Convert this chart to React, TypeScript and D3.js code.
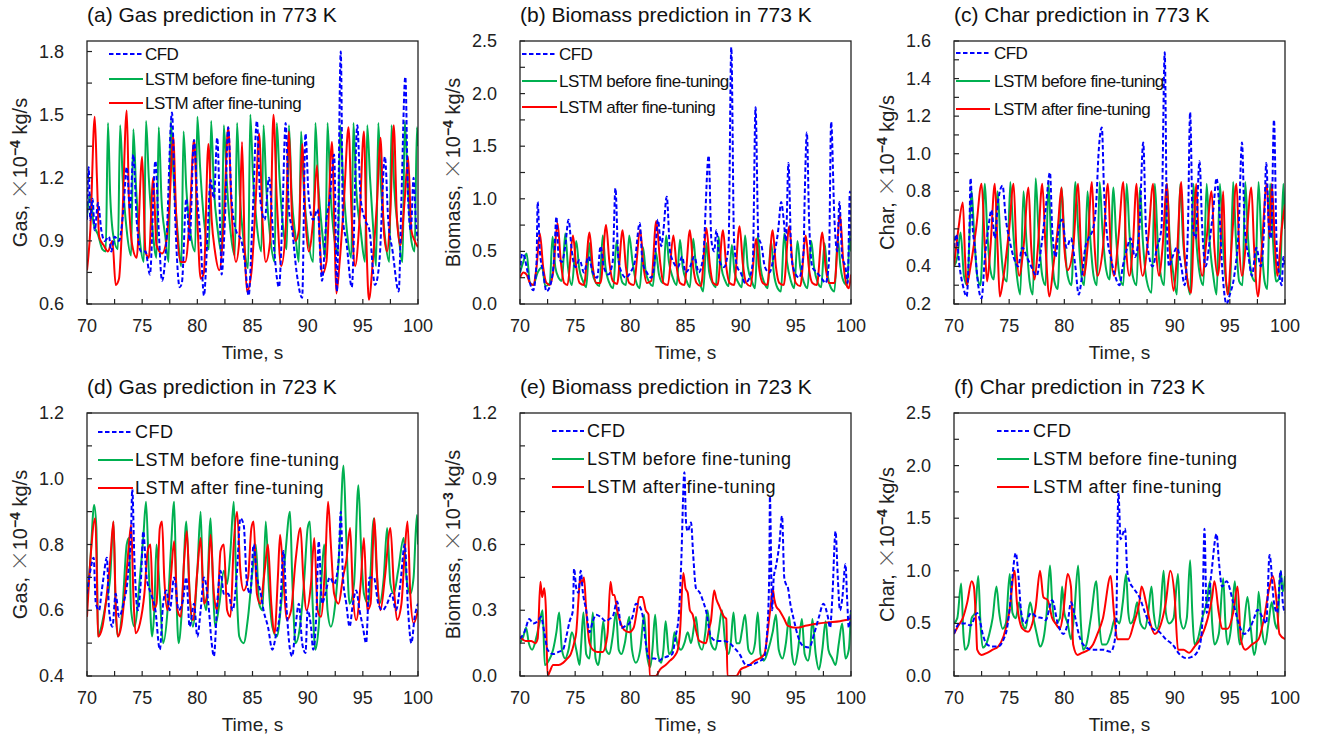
import React from 'react'
import * as d3 from 'd3'

type Pt = [number, number]

const timeTicks = [70, 75, 80, 85, 90, 95, 100]
const timeMinor = [72.5, 77.5, 82.5, 87.5, 92.5, 97.5]

// ---------- (a) Gas, 773 K ----------
const gasHotTicks = [0.6, 0.9, 1.2, 1.5, 1.8]
const gasHotCfd: Pt[] = [[70.0,1.0],[70.15,1.25],[70.3,1.0],[70.5,1.1],[70.7,0.95],[71.0,1.08],[71.3,0.95],[71.6,0.9],[72.0,0.92],[72.2,0.85],[72.5,0.92],[72.9,0.9],[73.3,1.05],[73.6,1.25],[73.9,1.05],[74.2,1.31],[74.5,1.0],[74.9,0.85],[75.3,0.85],[75.7,0.74],[76.2,1.28],[76.5,0.95],[76.8,0.71],[77.2,0.9],[77.7,1.51],[78.0,1.0],[78.4,0.68],[78.6,0.7],[79.0,1.1],[79.3,0.9],[79.7,1.38],[80.0,1.1],[80.3,0.9],[80.6,0.64],[80.9,0.9],[81.2,1.19],[81.5,1.1],[81.8,1.39],[82.1,0.9],[82.2,0.74],[82.5,1.0],[82.8,1.44],[83.1,1.1],[83.5,0.95],[84.0,0.9],[84.3,0.8],[84.65,0.64],[85.0,1.0],[85.4,1.47],[85.7,1.1],[86.1,1.0],[86.5,1.2],[86.9,0.9],[87.4,0.68],[87.7,1.0],[88.0,1.46],[88.3,1.05],[88.6,0.95],[89.0,0.75],[89.5,0.63],[89.8,1.41],[90.1,1.1],[90.5,1.0],[90.9,1.05],[91.3,0.71],[91.7,1.0],[92.0,1.1],[92.4,1.31],[92.65,0.66],[93.0,1.8],[93.2,1.0],[93.5,0.9],[94.0,0.68],[94.5,1.45],[94.8,1.1],[95.2,1.0],[95.6,0.95],[96.1,0.69],[96.5,0.8],[97.0,1.3],[97.3,1.0],[97.7,0.85],[98.25,0.66],[98.5,1.1],[98.85,1.68],[99.1,1.1],[99.35,0.95],[99.6,1.2],[99.8,1.0],[100,0.9]]
const gasHotBefore: Pt[] = [[70.0,1.02],[70.3,1.12],[70.6,0.98],[71.0,0.93],[71.4,0.86],[71.7,0.85],[71.9,1.46],[72.1,1.12],[72.4,0.92],[72.8,0.86],[73.0,1.45],[73.25,1.18],[73.6,0.95],[74.0,0.83],[74.2,1.43],[74.45,1.15],[74.8,0.9],[75.15,0.8],[75.35,1.47],[75.6,1.2],[75.95,0.95],[76.3,0.82],[76.5,1.44],[76.75,1.1],[77.1,0.92],[77.4,0.8],[77.6,1.47],[77.85,1.2],[78.2,0.95],[78.55,0.78],[78.75,1.42],[79.0,1.15],[79.4,0.93],[79.8,0.85],[80.0,1.49],[80.25,1.25],[80.6,1.0],[81.05,0.86],[81.25,1.47],[81.5,1.15],[81.85,0.95],[82.2,0.84],[82.4,1.45],[82.65,1.2],[83.0,0.95],[83.4,0.83],[83.6,1.46],[83.85,1.12],[84.2,0.9],[84.6,0.77],[84.8,1.5],[85.05,1.2],[85.4,0.97],[85.8,0.85],[86.0,1.45],[86.25,1.15],[86.6,0.92],[87.0,0.8],[87.2,1.46],[87.45,1.2],[87.8,0.95],[88.1,0.86],[88.3,1.45],[88.55,1.12],[88.9,0.92],[89.2,0.8],[89.4,1.42],[89.65,1.15],[90.0,0.93],[90.5,0.8],[90.7,1.46],[90.95,1.18],[91.3,0.95],[91.6,0.82],[91.8,1.46],[92.05,1.15],[92.4,0.92],[92.75,0.84],[92.95,1.45],[93.2,1.2],[93.55,0.95],[93.95,0.82],[94.15,1.46],[94.4,1.15],[94.8,0.95],[95.2,0.8],[95.4,1.45],[95.65,1.2],[95.95,0.95],[96.2,0.78],[96.4,1.46],[96.65,1.15],[97.0,0.92],[97.4,0.8],[97.6,1.45],[97.85,1.15],[98.2,0.95],[98.6,0.8],[98.8,1.47],[99.05,1.2],[99.4,0.9],[99.7,0.85],[99.9,1.44],[100,1.35]]
const gasHotAfter: Pt[] = [[70.0,0.76],[70.3,0.95],[70.7,1.49],[70.9,1.2],[71.1,0.92],[71.5,0.88],[71.9,0.85],[72.3,0.9],[72.6,0.69],[72.9,0.72],[73.2,1.0],[73.6,1.52],[73.8,1.1],[74.1,0.88],[74.5,0.82],[75.0,1.3],[75.3,0.85],[75.6,0.82],[76.0,1.2],[76.3,0.88],[76.8,0.84],[77.2,0.9],[77.5,1.1],[77.8,1.4],[78.1,1.0],[78.5,0.8],[78.9,0.8],[79.3,1.0],[79.7,1.38],[80.0,1.0],[80.3,0.72],[80.6,0.75],[81.0,1.36],[81.3,1.0],[81.6,0.85],[82.0,0.76],[82.4,1.0],[82.8,1.44],[83.1,1.05],[83.5,0.8],[83.8,0.9],[84.05,1.37],[84.3,0.85],[84.5,0.66],[84.9,0.75],[85.3,1.1],[85.6,1.41],[85.9,1.0],[86.2,0.8],[86.6,0.9],[86.9,1.5],[87.2,1.1],[87.6,0.78],[88.0,0.95],[88.3,1.42],[88.6,1.0],[88.9,0.9],[89.2,0.95],[89.5,1.36],[89.8,1.0],[90.1,0.85],[90.5,1.0],[90.85,1.26],[91.1,0.9],[91.3,0.74],[91.7,0.8],[92.2,1.37],[92.45,0.9],[92.6,0.65],[92.9,0.8],[93.3,1.1],[93.7,1.44],[94.0,1.0],[94.3,0.78],[94.7,1.0],[95.1,1.42],[95.35,0.85],[95.55,0.62],[95.9,0.8],[96.3,1.1],[96.6,1.39],[96.9,0.95],[97.2,0.85],[97.5,1.05],[97.8,1.45],[98.1,1.0],[98.4,0.88],[98.8,1.1],[99.1,1.3],[99.4,0.95],[99.7,0.9],[100,0.87]]

// ---------- (b) Biomass, 773 K ----------
const bioHotTicks = [0, 0.5, 1.0, 1.5, 2.0, 2.5]
const bioHotCfd: Pt[] = [[70.0,0.3],[70.2,0.48],[70.4,0.45],[70.6,0.35],[70.9,0.2],[71.2,0.13],[71.5,0.4],[71.6,0.97],[71.8,0.5],[72.1,0.3],[72.4,0.12],[72.8,0.2],[73.1,0.45],[73.3,0.83],[73.5,0.45],[73.8,0.4],[74.1,0.55],[74.4,0.8],[74.7,0.5],[75.0,0.35],[75.4,0.42],[75.8,0.3],[76.2,0.45],[76.6,0.3],[77.0,0.25],[77.3,0.55],[77.6,0.35],[78.0,0.28],[78.4,0.4],[78.65,1.1],[78.9,0.45],[79.2,0.3],[79.6,0.25],[80.0,0.3],[80.4,0.4],[80.85,0.77],[81.1,0.4],[81.5,0.3],[81.9,0.25],[82.2,0.4],[82.5,0.8],[82.8,0.55],[83.0,0.7],[83.3,1.02],[83.6,0.5],[83.9,0.4],[84.3,0.35],[84.7,0.45],[85.0,0.3],[85.4,0.35],[85.8,0.45],[86.2,0.3],[86.6,0.45],[87.1,1.41],[87.35,0.6],[87.6,0.5],[87.8,0.7],[88.1,0.4],[88.5,0.35],[88.9,0.55],[89.15,2.44],[89.4,0.6],[89.7,0.35],[90.0,0.3],[90.4,0.2],[90.8,0.25],[91.1,0.4],[91.35,1.87],[91.6,0.65],[91.9,0.55],[92.2,0.35],[92.6,0.3],[93.0,0.45],[93.4,0.7],[93.67,0.97],[93.9,0.8],[94.1,0.6],[94.33,1.34],[94.6,0.45],[94.9,0.3],[95.3,0.25],[95.7,0.5],[95.8,1.0],[96.0,1.63],[96.2,0.8],[96.5,0.35],[96.9,0.3],[97.3,0.25],[97.7,0.2],[98.0,0.4],[98.2,1.73],[98.5,0.8],[98.75,0.5],[98.95,0.97],[99.2,0.45],[99.5,0.35],[99.7,0.2],[99.9,1.07],[100,0.6]]
const bioHotBefore: Pt[] = [[70.0,0.3],[70.3,0.4],[70.6,0.48],[70.9,0.2],[71.2,0.18],[71.6,0.3],[72.0,0.35],[72.3,0.17],[72.7,0.2],[72.95,0.64],[73.2,0.35],[73.5,0.25],[73.8,0.22],[74.1,0.67],[74.35,0.35],[74.7,0.18],[75.1,0.6],[75.35,0.35],[75.7,0.22],[76.0,0.16],[76.3,0.58],[76.55,0.3],[76.9,0.2],[77.2,0.17],[77.5,0.65],[77.75,0.35],[78.1,0.2],[78.45,0.15],[78.75,0.6],[79.0,0.35],[79.3,0.2],[79.6,0.18],[79.9,0.65],[80.2,0.4],[80.5,0.22],[80.85,0.15],[81.15,0.54],[81.4,0.3],[81.75,0.2],[82.05,0.17],[82.3,0.5],[82.6,0.28],[82.95,0.2],[83.25,0.65],[83.5,0.4],[83.85,0.25],[84.2,0.18],[84.5,0.61],[84.75,0.35],[85.1,0.22],[85.4,0.16],[85.7,0.62],[85.95,0.35],[86.3,0.2],[86.6,0.12],[86.9,0.58],[87.15,0.3],[87.45,0.2],[87.75,0.16],[88.0,0.64],[88.25,0.35],[88.6,0.22],[88.9,0.17],[89.2,0.56],[89.45,0.3],[89.8,0.2],[90.1,0.16],[90.4,0.65],[90.65,0.35],[91.0,0.22],[91.3,0.15],[91.55,0.65],[91.8,0.35],[92.15,0.2],[92.45,0.15],[92.75,0.6],[93.0,0.3],[93.35,0.15],[93.65,0.12],[93.95,0.67],[94.2,0.4],[94.55,0.22],[94.85,0.15],[95.15,0.6],[95.4,0.35],[95.75,0.2],[96.05,0.15],[96.4,0.6],[96.65,0.35],[97.0,0.2],[97.3,0.16],[97.6,0.58],[97.85,0.3],[98.2,0.15],[98.5,0.12],[98.8,0.62],[99.05,0.35],[99.4,0.2],[99.65,0.18],[99.9,0.65],[100,0.5]]
const bioHotAfter: Pt[] = [[70.0,0.25],[70.3,0.3],[70.6,0.28],[70.9,0.2],[71.2,0.18],[71.5,0.35],[71.8,0.67],[72.1,0.35],[72.4,0.2],[72.7,0.18],[73.0,0.3],[73.4,0.77],[73.7,0.4],[74.0,0.2],[74.3,0.18],[74.8,0.65],[75.1,0.35],[75.4,0.2],[75.8,0.18],[76.3,0.68],[76.6,0.35],[76.9,0.2],[77.3,0.2],[77.8,0.75],[78.1,0.4],[78.4,0.22],[78.8,0.19],[79.3,0.7],[79.6,0.35],[79.9,0.2],[80.3,0.18],[80.9,0.7],[81.2,0.35],[81.5,0.2],[81.9,0.22],[82.35,0.79],[82.7,0.4],[83.0,0.2],[83.4,0.18],[83.9,0.65],[84.2,0.35],[84.5,0.2],[84.9,0.18],[85.4,0.7],[85.7,0.35],[86.0,0.2],[86.4,0.17],[86.9,0.72],[87.2,0.38],[87.5,0.2],[87.9,0.18],[88.4,0.7],[88.7,0.35],[89.0,0.2],[89.4,0.18],[89.9,0.74],[90.2,0.38],[90.5,0.2],[90.9,0.17],[91.4,0.62],[91.7,0.32],[92.0,0.2],[92.4,0.18],[92.9,0.7],[93.2,0.35],[93.5,0.2],[93.9,0.18],[94.4,0.74],[94.7,0.38],[95.0,0.2],[95.4,0.17],[95.9,0.65],[96.2,0.33],[96.5,0.2],[96.9,0.18],[97.4,0.68],[97.7,0.35],[98.0,0.2],[98.5,0.2],[99.0,0.85],[99.3,0.4],[99.6,0.18],[99.8,0.15],[100,0.28]]

// ---------- (c) Char, 773 K ----------
const charHotTicks = [0.2, 0.4, 0.6, 0.8, 1.0, 1.2, 1.4, 1.6]
const charHotCfd: Pt[] = [[70.0,0.5],[70.2,0.57],[70.5,0.4],[70.8,0.3],[71.15,0.24],[71.4,0.6],[71.5,0.87],[71.7,0.6],[71.9,0.5],[72.1,0.35],[72.5,0.23],[72.8,0.45],[73.1,0.6],[73.4,0.7],[73.7,0.55],[74.0,0.75],[74.4,0.83],[74.7,0.65],[75.0,0.55],[75.4,0.45],[75.8,0.4],[76.2,0.5],[76.6,0.45],[77.0,0.4],[77.5,0.35],[77.9,0.5],[78.3,0.7],[78.7,0.9],[78.9,0.6],[79.2,0.45],[79.5,0.6],[79.8,0.65],[80.2,0.5],[80.6,0.55],[81.0,0.4],[81.3,0.25],[81.6,0.35],[81.9,0.5],[82.2,0.55],[82.6,0.6],[82.9,0.75],[83.1,1.0],[83.4,1.14],[83.6,0.8],[83.9,0.55],[84.2,0.45],[84.6,0.35],[85.0,0.3],[85.3,0.4],[85.7,0.5],[86.0,0.55],[86.4,0.45],[86.8,0.6],[87.15,1.06],[87.4,0.6],[87.7,0.45],[88.0,0.4],[88.4,0.5],[88.8,0.6],[89.1,1.54],[89.3,0.6],[89.5,0.4],[89.8,0.45],[90.2,0.5],[90.6,0.4],[90.9,0.3],[91.2,0.6],[91.4,1.22],[91.65,0.6],[91.9,0.55],[92.25,0.96],[92.5,0.6],[92.8,0.4],[93.2,0.55],[93.5,0.7],[93.8,0.87],[94.0,0.75],[94.3,0.4],[94.7,0.2],[95.0,0.25],[95.4,0.35],[95.8,0.6],[96.1,1.06],[96.35,0.6],[96.7,0.45],[97.0,0.35],[97.4,0.5],[97.8,0.4],[98.1,0.6],[98.3,0.95],[98.55,0.6],[98.75,0.55],[99.0,1.18],[99.25,0.5],[99.5,0.35],[99.7,0.3],[99.85,0.45],[100,0.4]]
const charHotBefore: Pt[] = [[70.0,0.4],[70.3,0.45],[70.6,0.58],[70.9,0.35],[71.2,0.3],[71.6,0.8],[71.8,0.6],[72.1,0.35],[72.4,0.3],[72.8,0.84],[73.0,0.6],[73.3,0.38],[73.6,0.33],[73.95,0.8],[74.2,0.55],[74.5,0.35],[74.8,0.32],[75.1,0.85],[75.35,0.6],[75.7,0.35],[76.0,0.25],[76.3,0.8],[76.55,0.55],[76.85,0.32],[77.15,0.25],[77.4,0.87],[77.65,0.6],[78.0,0.35],[78.3,0.3],[78.55,0.85],[78.8,0.55],[79.1,0.32],[79.4,0.28],[79.75,0.82],[80.0,0.55],[80.3,0.35],[80.65,0.3],[81.0,0.85],[81.25,0.6],[81.55,0.35],[81.8,0.3],[82.1,0.8],[82.35,0.55],[82.65,0.35],[82.95,0.3],[83.2,0.85],[83.45,0.6],[83.8,0.38],[84.1,0.33],[84.45,0.82],[84.7,0.55],[85.0,0.35],[85.35,0.3],[85.65,0.84],[85.9,0.58],[86.2,0.35],[86.55,0.3],[86.85,0.82],[87.1,0.55],[87.45,0.33],[87.9,0.26],[88.2,0.84],[88.45,0.55],[88.75,0.35],[89.05,0.3],[89.3,0.84],[89.55,0.55],[89.9,0.35],[90.2,0.25],[90.5,0.84],[90.75,0.55],[91.1,0.35],[91.4,0.25],[91.7,0.84],[91.95,0.55],[92.3,0.35],[92.6,0.3],[92.9,0.84],[93.15,0.55],[93.5,0.35],[93.8,0.25],[94.1,0.84],[94.35,0.55],[94.7,0.3],[95.0,0.25],[95.3,0.85],[95.55,0.55],[95.85,0.32],[96.15,0.3],[96.4,0.85],[96.65,0.55],[97.0,0.35],[97.3,0.32],[97.6,0.85],[97.85,0.55],[98.15,0.32],[98.4,0.28],[98.65,0.84],[98.9,0.55],[99.2,0.32],[99.55,0.35],[99.85,0.84],[100,0.6]]
const charHotAfter: Pt[] = [[70.0,0.4],[70.4,0.6],[70.8,0.74],[71.0,0.45],[71.15,0.3],[71.5,0.4],[72.0,0.6],[72.5,0.84],[72.8,0.5],[73.0,0.32],[73.3,0.5],[73.7,0.84],[73.95,0.5],[74.15,0.24],[74.5,0.35],[75.0,0.6],[75.4,0.84],[75.65,0.5],[75.9,0.35],[76.3,0.5],[76.75,0.82],[77.0,0.5],[77.3,0.33],[77.6,0.5],[78.0,0.84],[78.3,0.5],[78.65,0.24],[79.0,0.4],[79.4,0.6],[79.75,0.82],[80.0,0.5],[80.3,0.38],[80.8,0.5],[81.25,0.84],[81.5,0.5],[81.8,0.35],[82.1,0.5],[82.5,0.85],[82.75,0.5],[83.0,0.35],[83.5,0.5],[83.95,0.84],[84.2,0.5],[84.5,0.35],[84.9,0.55],[85.35,0.85],[85.6,0.5],[85.9,0.35],[86.2,0.5],[86.55,0.84],[86.8,0.5],[87.1,0.35],[87.6,0.55],[88.05,0.84],[88.3,0.5],[88.6,0.35],[88.9,0.5],[89.3,0.84],[89.55,0.5],[89.9,0.27],[90.2,0.45],[90.6,0.85],[90.85,0.5],[91.1,0.35],[91.5,0.26],[91.7,0.55],[91.95,0.84],[92.2,0.5],[92.5,0.35],[92.9,0.55],[93.35,0.8],[93.6,0.5],[93.9,0.35],[94.15,0.5],[94.4,0.8],[94.6,0.4],[94.8,0.25],[95.2,0.55],[95.6,0.84],[95.85,0.5],[96.1,0.35],[96.5,0.55],[96.95,0.82],[97.2,0.5],[97.55,0.24],[97.9,0.5],[98.35,0.84],[98.6,0.55],[98.8,0.84],[99.1,0.5],[99.3,0.35],[99.7,0.6],[100,0.73]]

// ---------- (d) Gas, 723 K ----------
const gasColdTicks = [0.4, 0.6, 0.8, 1.0, 1.2]
const gasColdCfd: Pt[] = [[70.0,0.65],[70.3,0.72],[70.6,0.76],[70.8,0.62],[71.1,0.6],[71.3,0.65],[71.5,0.7],[71.8,0.76],[72.0,0.6],[72.3,0.55],[72.6,0.65],[72.9,0.58],[73.3,0.62],[73.7,0.7],[74.0,0.85],[74.1,0.97],[74.3,0.75],[74.6,0.6],[74.9,0.7],[75.1,0.84],[75.4,0.7],[75.8,0.65],[76.2,0.6],[76.6,0.48],[76.9,0.62],[77.2,0.66],[77.5,0.6],[77.9,0.7],[78.3,0.6],[78.7,0.63],[79.0,0.7],[79.3,0.55],[79.7,0.62],[80.0,0.52],[80.3,0.6],[80.6,0.7],[81.0,0.62],[81.3,0.5],[81.5,0.46],[81.8,0.62],[82.1,0.72],[82.4,0.65],[82.8,0.65],[83.2,0.6],[83.6,0.72],[83.9,0.88],[84.2,0.86],[84.5,0.68],[84.8,0.65],[85.1,0.8],[85.4,0.7],[85.7,0.66],[86.0,0.6],[86.4,0.55],[86.8,0.48],[87.1,0.52],[87.5,0.6],[87.8,0.78],[88.1,0.6],[88.4,0.48],[88.6,0.46],[88.9,0.55],[89.2,0.62],[89.5,0.5],[89.8,0.47],[90.0,0.6],[90.3,0.55],[90.5,0.48],[90.8,0.6],[91.0,0.81],[91.3,0.62],[91.6,0.65],[92.0,0.7],[92.4,0.68],[92.8,0.75],[93.0,0.9],[93.2,0.7],[93.5,0.62],[93.8,0.55],[94.1,0.62],[94.4,0.66],[94.7,0.6],[95.0,0.55],[95.3,0.5],[95.6,0.7],[96.0,0.7],[96.4,0.62],[96.8,0.6],[97.2,0.62],[97.6,0.65],[98.0,0.6],[98.4,0.68],[98.8,0.8],[99.1,0.6],[99.4,0.5],[99.7,0.58],[100,0.62]]
const gasColdBefore: Pt[] = [[70.0,0.62],[70.3,0.75],[70.65,0.92],[70.85,0.85],[71.0,0.52],[71.3,0.55],[71.7,0.62],[72.1,0.7],[72.4,0.87],[72.6,0.6],[72.8,0.52],[73.2,0.6],[73.6,0.8],[73.8,0.82],[74.0,0.6],[74.3,0.55],[74.8,0.7],[75.1,0.82],[75.35,0.93],[75.6,0.72],[75.9,0.52],[76.1,0.6],[76.3,0.8],[76.6,0.65],[76.9,0.5],[77.3,0.6],[77.6,0.78],[77.9,0.93],[78.1,0.65],[78.3,0.5],[78.6,0.6],[79.0,0.87],[79.3,0.65],[79.6,0.55],[80.0,0.72],[80.3,0.9],[80.5,0.68],[80.8,0.6],[81.2,0.88],[81.4,0.7],[81.6,0.55],[82.0,0.62],[82.4,0.72],[82.7,0.68],[83.0,0.78],[83.3,0.93],[83.5,0.72],[83.8,0.52],[84.2,0.5],[84.6,0.58],[85.0,0.72],[85.3,0.8],[85.6,0.62],[85.9,0.6],[86.2,0.87],[86.5,0.66],[86.8,0.55],[87.2,0.52],[87.6,0.62],[88.0,0.78],[88.4,0.9],[88.6,0.7],[88.9,0.5],[89.3,0.55],[89.7,0.7],[90.0,0.85],[90.2,0.87],[90.45,0.62],[90.7,0.48],[91.0,0.55],[91.3,0.72],[91.5,0.8],[91.8,0.6],[92.1,0.55],[92.5,0.62],[92.9,0.8],[93.25,1.04],[93.5,0.82],[93.8,0.62],[94.2,0.68],[94.6,0.98],[94.85,0.78],[95.1,0.65],[95.5,0.62],[96.0,0.88],[96.25,0.72],[96.5,0.62],[96.9,0.7],[97.2,0.85],[97.5,0.68],[97.8,0.65],[98.2,0.72],[98.7,0.82],[98.95,0.7],[99.3,0.65],[99.6,0.7],[99.9,0.89],[100,0.8]]
const gasColdAfter: Pt[] = [[70.0,0.58],[70.3,0.75],[70.75,0.88],[70.9,0.7],[71.0,0.52],[71.4,0.55],[71.8,0.65],[72.1,0.75],[72.4,0.87],[72.6,0.62],[72.8,0.52],[73.1,0.55],[73.5,0.68],[73.8,0.8],[74.0,0.86],[74.2,0.65],[74.4,0.53],[74.8,0.56],[75.2,0.65],[75.5,0.78],[75.75,0.8],[76.0,0.6],[76.3,0.62],[76.6,0.85],[76.8,0.87],[77.0,0.7],[77.3,0.6],[77.6,0.7],[77.9,0.81],[78.2,0.6],[78.5,0.58],[78.8,0.75],[79.05,0.84],[79.3,0.65],[79.6,0.57],[80.0,0.72],[80.3,0.82],[80.6,0.62],[80.9,0.65],[81.2,0.83],[81.5,0.65],[81.8,0.6],[82.1,0.78],[82.4,0.8],[82.7,0.6],[83.0,0.58],[83.3,0.8],[83.6,0.9],[83.9,0.72],[84.2,0.66],[84.6,0.7],[84.9,0.85],[85.1,0.87],[85.4,0.65],[85.7,0.62],[86.1,0.72],[86.4,0.8],[86.7,0.62],[87.0,0.53],[87.3,0.7],[87.5,0.83],[87.8,0.7],[88.1,0.57],[88.5,0.6],[88.9,0.75],[89.35,0.85],[89.6,0.7],[89.9,0.6],[90.3,0.68],[90.6,0.82],[90.9,0.6],[91.2,0.58],[91.6,0.75],[91.85,0.93],[92.1,0.8],[92.4,0.65],[92.8,0.62],[93.2,0.7],[93.5,0.75],[93.85,0.85],[94.1,0.65],[94.4,0.57],[94.8,0.68],[95.1,0.82],[95.4,0.6],[95.7,0.62],[96.05,0.88],[96.3,0.7],[96.6,0.6],[97.0,0.7],[97.5,0.85],[97.8,0.68],[98.1,0.57],[98.5,0.62],[98.8,0.78],[99.05,0.87],[99.3,0.65],[99.6,0.56],[100,0.6]]

// ---------- (e) Biomass, 723 K ----------
const bioColdTicks = [0, 0.3, 0.6, 0.9, 1.2]
const bioColdCfd: Pt[] = [[70.0,0.17],[70.4,0.2],[70.85,0.26],[71.2,0.24],[71.6,0.25],[71.9,0.27],[72.2,0.2],[72.5,0.12],[73.0,0.1],[73.5,0.11],[73.9,0.12],[74.2,0.18],[74.5,0.25],[74.8,0.3],[74.9,0.49],[75.1,0.4],[75.3,0.38],[75.5,0.48],[75.7,0.38],[76.0,0.3],[76.3,0.2],[76.6,0.25],[76.9,0.28],[77.3,0.27],[77.8,0.25],[78.1,0.26],[78.4,0.27],[78.8,0.34],[79.2,0.22],[79.6,0.23],[79.9,0.24],[80.2,0.27],[80.5,0.33],[80.8,0.32],[81.1,0.28],[81.4,0.15],[81.7,0.08],[82.2,0.08],[82.6,0.07],[82.9,0.08],[83.4,0.09],[83.8,0.1],[84.1,0.18],[84.4,0.28],[84.6,0.5],[84.9,0.93],[85.05,0.7],[85.2,0.66],[85.5,0.7],[85.7,0.55],[85.95,0.4],[86.3,0.38],[86.6,0.34],[86.85,0.3],[87.3,0.18],[87.8,0.16],[88.4,0.16],[89.0,0.15],[89.4,0.13],[89.9,0.1],[90.5,0.05],[91.0,0.05],[91.4,0.06],[91.8,0.07],[92.1,0.08],[92.4,0.2],[92.6,0.5],[92.65,0.82],[92.85,0.3],[93.0,0.45],[93.2,0.5],[93.5,0.6],[93.75,0.73],[93.95,0.45],[94.1,0.42],[94.25,0.41],[94.5,0.33],[94.85,0.25],[95.2,0.18],[95.6,0.14],[96.2,0.13],[96.7,0.2],[97.1,0.27],[97.5,0.33],[97.9,0.27],[98.1,0.22],[98.3,0.35],[98.6,0.66],[98.8,0.45],[99.0,0.3],[99.2,0.35],[99.5,0.51],[99.65,0.35],[99.8,0.22],[100,0.3]]
const bioColdBefore: Pt[] = [[70.0,0.15],[70.3,0.18],[70.55,0.22],[70.8,0.15],[71.1,0.12],[71.5,0.18],[71.8,0.25],[72.05,0.3],[72.25,0.05],[72.6,0.07],[73.0,0.12],[73.3,0.2],[73.55,0.29],[73.8,0.12],[74.1,0.08],[74.4,0.12],[74.7,0.2],[75.1,0.12],[75.4,0.05],[75.55,0.15],[75.75,0.29],[76.0,0.1],[76.3,0.08],[76.6,0.29],[76.85,0.08],[77.1,0.05],[77.3,0.12],[77.55,0.25],[77.8,0.12],[78.1,0.1],[78.4,0.18],[78.7,0.29],[78.95,0.12],[79.2,0.1],[79.5,0.15],[79.9,0.27],[80.15,0.12],[80.5,0.06],[80.9,0.12],[81.25,0.28],[81.5,0.1],[81.8,0.04],[82.0,0.12],[82.25,0.28],[82.5,0.1],[82.8,0.06],[83.0,0.12],[83.2,0.25],[83.5,0.1],[83.8,0.12],[84.0,0.2],[84.3,0.14],[84.6,0.12],[84.9,0.15],[85.2,0.2],[85.5,0.15],[85.95,0.27],[86.2,0.15],[86.5,0.12],[86.8,0.2],[87.0,0.3],[87.3,0.15],[87.7,0.12],[88.0,0.2],[88.3,0.3],[88.6,0.15],[88.9,0.1],[89.1,0.15],[89.35,0.29],[89.6,0.15],[89.9,0.15],[90.1,0.2],[90.4,0.28],[90.7,0.12],[91.0,0.1],[91.3,0.15],[91.55,0.29],[91.8,0.1],[92.1,0.07],[92.5,0.12],[92.9,0.2],[93.2,0.28],[93.45,0.12],[93.8,0.08],[94.1,0.15],[94.4,0.27],[94.65,0.1],[94.9,0.05],[95.2,0.12],[95.55,0.26],[95.8,0.1],[96.1,0.07],[96.3,0.12],[96.5,0.26],[96.8,0.1],[97.1,0.03],[97.4,0.12],[97.7,0.25],[97.95,0.12],[98.3,0.08],[98.6,0.05],[98.9,0.15],[99.2,0.24],[99.5,0.08],[99.8,0.12],[100,0.3]]
const bioColdAfter: Pt[] = [[70.0,0.18],[70.5,0.16],[71.0,0.16],[71.4,0.15],[71.6,0.17],[71.85,0.43],[72.0,0.36],[72.2,0.4],[72.35,0.3],[72.5,0.0],[72.7,0.02],[73.0,0.05],[73.5,0.05],[73.9,0.06],[74.3,0.08],[74.6,0.1],[74.9,0.15],[75.1,0.2],[75.3,0.35],[75.45,0.45],[75.6,0.42],[75.8,0.45],[76.0,0.3],[76.3,0.15],[76.6,0.12],[77.0,0.11],[77.5,0.11],[77.8,0.15],[77.95,0.2],[78.2,0.43],[78.4,0.37],[78.55,0.37],[78.8,0.3],[79.0,0.26],[79.45,0.21],[79.9,0.2],[80.3,0.22],[80.6,0.3],[80.8,0.36],[81.1,0.36],[81.4,0.3],[81.65,0.28],[81.75,0.0],[82.3,0.0],[82.7,0.03],[83.2,0.05],[83.6,0.07],[84.0,0.09],[84.3,0.12],[84.5,0.2],[84.8,0.47],[85.0,0.4],[85.2,0.38],[85.4,0.3],[85.65,0.28],[85.9,0.22],[86.25,0.16],[86.85,0.15],[87.15,0.22],[87.3,0.25],[87.6,0.39],[87.8,0.35],[88.05,0.32],[88.5,0.27],[88.7,0.26],[88.8,0.0],[89.6,0.0],[90.0,0.03],[90.4,0.04],[90.8,0.05],[91.3,0.07],[91.7,0.08],[92.15,0.1],[92.4,0.18],[92.6,0.27],[92.75,0.33],[92.9,0.4],[93.05,0.35],[93.2,0.32],[93.5,0.3],[93.95,0.26],[94.25,0.23],[95.0,0.22],[96.0,0.23],[97.0,0.24],[98.0,0.245],[99.0,0.25],[100,0.26]]

// ---------- (f) Char, 723 K ----------
const charColdTicks = [0, 0.5, 1.0, 1.5, 2.0, 2.5]
const charColdCfd: Pt[] = [[70.0,0.4],[70.5,0.5],[71.0,0.5],[71.5,0.48],[72.1,0.6],[72.3,0.55],[72.6,0.4],[73.0,0.3],[73.5,0.28],[74.0,0.28],[74.5,0.35],[74.8,0.45],[75.1,0.7],[75.3,0.95],[75.6,1.17],[75.8,1.0],[76.1,0.6],[76.4,0.5],[77.0,0.6],[77.5,0.56],[78.0,0.55],[78.3,0.53],[78.9,0.72],[79.4,0.5],[79.9,0.4],[80.3,0.5],[80.6,0.7],[81.0,0.55],[81.3,0.4],[81.7,0.3],[82.5,0.25],[83.5,0.25],[84.2,0.23],[84.5,0.3],[84.7,0.5],[84.9,1.75],[85.1,1.3],[85.3,1.35],[85.5,1.4],[85.7,1.0],[85.9,0.9],[86.3,0.83],[86.8,0.75],[87.5,0.55],[88.0,0.45],[88.6,0.42],[89.2,0.35],[89.8,0.3],[90.5,0.2],[91.0,0.17],[91.5,0.18],[92.0,0.22],[92.3,0.3],[92.5,0.5],[92.7,1.4],[92.9,0.6],[93.3,0.95],[93.8,1.35],[94.0,1.1],[94.3,0.85],[94.7,0.9],[95.3,0.7],[95.8,0.5],[96.3,0.4],[96.8,0.45],[97.2,0.55],[97.5,0.63],[98.0,0.55],[98.3,0.5],[98.6,1.15],[99.0,0.7],[99.3,0.6],[99.6,1.0],[99.8,0.7],[100,0.6]]
const charColdBefore: Pt[] = [[70.0,0.5],[70.3,0.55],[70.65,0.88],[70.85,0.4],[71.0,0.25],[71.3,0.3],[71.6,0.55],[71.9,0.6],[72.2,0.95],[72.4,0.5],[72.6,0.27],[72.9,0.3],[73.2,0.4],[73.5,0.55],[73.85,0.85],[74.1,0.6],[74.4,0.45],[74.7,0.5],[75.05,0.97],[75.3,0.6],[75.6,0.55],[75.9,0.7],[76.2,0.5],[76.5,0.45],[76.9,0.7],[77.2,0.55],[77.5,0.4],[77.8,0.28],[78.1,0.35],[78.4,0.6],[78.7,1.05],[78.9,0.7],[79.2,0.5],[79.6,0.55],[79.8,0.85],[80.0,0.6],[80.3,0.5],[80.6,0.35],[80.9,0.6],[81.25,1.05],[81.5,0.5],[81.7,0.25],[82.0,0.3],[82.4,0.55],[82.9,0.9],[83.1,0.6],[83.4,0.3],[83.8,0.3],[84.2,0.4],[84.6,0.55],[85.0,0.5],[85.3,0.7],[85.6,0.97],[85.8,0.6],[86.0,0.5],[86.3,0.55],[86.6,0.7],[86.9,0.5],[87.3,0.45],[87.6,0.6],[87.9,0.85],[88.1,0.6],[88.4,0.45],[88.7,0.6],[89.0,1.0],[89.2,0.6],[89.5,0.5],[89.9,0.55],[90.3,0.97],[90.5,0.55],[90.8,0.45],[91.1,0.55],[91.4,1.1],[91.6,0.6],[91.8,0.3],[92.1,0.35],[92.5,0.55],[92.9,0.7],[93.2,0.9],[93.4,0.5],[93.6,0.3],[94.0,0.4],[94.4,0.93],[94.6,0.5],[94.8,0.3],[95.1,0.45],[95.45,0.9],[95.7,0.5],[95.9,0.3],[96.2,0.4],[96.6,0.75],[96.9,0.45],[97.2,0.2],[97.4,0.3],[97.6,0.8],[97.9,0.45],[98.2,0.3],[98.5,0.5],[98.8,0.7],[99.1,0.5],[99.3,0.45],[99.6,1.0],[99.8,0.8],[100,0.95]]
const charColdAfter: Pt[] = [[70.0,0.4],[70.4,0.48],[70.8,0.55],[71.2,0.7],[71.6,0.9],[71.8,0.85],[72.0,0.5],[72.1,0.25],[72.5,0.2],[73.0,0.22],[73.5,0.25],[74.0,0.28],[74.5,0.38],[75.0,0.6],[75.5,1.0],[75.7,0.7],[76.2,0.45],[76.7,0.42],[77.1,0.5],[77.4,0.65],[77.8,1.0],[78.1,0.75],[78.5,0.72],[78.9,0.55],[79.2,0.5],[79.6,0.45],[79.9,0.6],[80.3,0.97],[80.6,0.85],[80.8,0.3],[81.2,0.2],[81.6,0.22],[82.2,0.25],[82.6,0.3],[83.0,0.4],[83.5,0.55],[84.2,0.95],[84.5,0.6],[84.8,0.35],[85.3,0.35],[85.8,0.35],[86.3,0.5],[86.8,0.7],[87.0,0.85],[87.4,0.7],[87.8,0.5],[88.2,0.4],[88.6,0.45],[89.2,0.7],[89.6,1.0],[90.0,0.75],[90.3,0.25],[90.8,0.25],[91.3,0.22],[91.8,0.28],[92.3,0.35],[93.0,0.55],[93.4,0.75],[93.6,0.9],[94.0,0.6],[94.3,0.45],[94.8,0.45],[95.3,0.6],[95.7,0.85],[96.0,0.35],[96.4,0.25],[97.0,0.3],[97.6,0.35],[98.1,0.55],[98.6,0.85],[98.9,0.95],[99.2,0.75],[99.5,0.4],[100,0.35]]

const seriesNames = ['CFD', 'LSTM before fine-tuning', 'LSTM after fine-tuning']
const colors = { cfd: '#0000ff', before: '#00b050', after: '#ff0000' }

const W = 331
const H = 263
const font = '"Liberation Sans", Arial, sans-serif'

const panels = [
  { id: 'a', title: '(a) Gas prediction in 773 K', species: 'Gas', exp: '−4', domain: [0.6, 1.85], ticks: gasHotTicks, cfd: gasHotCfd, before: gasHotBefore, after: gasHotAfter, left: 87, top: 41, legend: { x0: 109, x1: 143, tx: 145, ys: [54, 79, 103] }, topRow: true },
  { id: 'b', title: '(b) Biomass prediction in 773 K', species: 'Biomass', exp: '−4', domain: [0, 2.5], ticks: bioHotTicks, cfd: bioHotCfd, before: bioHotBefore, after: bioHotAfter, left: 520, top: 41, legend: { x0: 522, x1: 557, tx: 559, ys: [54, 81, 107] }, topRow: true },
  { id: 'c', title: '(c) Char prediction in 773 K', species: 'Char', exp: '−4', domain: [0.2, 1.6], ticks: charHotTicks, cfd: charHotCfd, before: charHotBefore, after: charHotAfter, left: 954, top: 41, legend: { x0: 956, x1: 990, tx: 994, ys: [53, 81, 109] }, topRow: true },
  { id: 'd', title: '(d) Gas prediction in 723 K', species: 'Gas', exp: '−4', domain: [0.4, 1.2], ticks: gasColdTicks, cfd: gasColdCfd, before: gasColdBefore, after: gasColdAfter, left: 87, top: 413, legend: { x0: 98, x1: 133, tx: 135, ys: [432, 460, 488] }, topRow: false },
  { id: 'e', title: '(e) Biomass prediction in 723 K', species: 'Biomass', exp: '−3', domain: [0, 1.2], ticks: bioColdTicks, cfd: bioColdCfd, before: bioColdBefore, after: bioColdAfter, left: 520, top: 413, legend: { x0: 552, x1: 584, tx: 587, ys: [431, 459, 487] }, topRow: false },
  { id: 'f', title: '(f) Char prediction in 723 K', species: 'Char', exp: '−4', domain: [0, 2.5], ticks: charColdTicks, cfd: charColdCfd, before: charColdBefore, after: charColdAfter, left: 954, top: 413, legend: { x0: 997, x1: 1029, tx: 1033, ys: [431, 459, 487] }, topRow: false },
]

const Panel = ({ p }: { p: (typeof panels)[number] }) => {
  const x = d3.scaleLinear().domain([70, 100]).range([p.left, p.left + W])
  const y = d3.scaleLinear().domain(p.domain).range([p.top + H, p.top])
  const line = d3
    .line<Pt>()
    .x((d) => x(d[0]))
    .y((d) => y(d[1]))
    .curve(d3.curveMonotoneX)
  const bottom = p.top + H
  const fmt = d3.format('.1f')
  const minor = p.ticks.slice(1).map((t, i) => (t + p.ticks[i]) / 2)
  const legendSize = p.topRow ? 17 : 18
  const legendSpacing = p.topRow ? -0.55 : 0.5
  const styles = [
    { color: colors.cfd, dash: '4.5,2.5' },
    { color: colors.before, dash: undefined },
    { color: colors.after, dash: undefined },
  ]
  const labelX = p.left - 67
  const labelY = p.top + H / 2

  return (
    <g>
      <defs>
        <clipPath id={`clip-${p.id}`}>
          <rect x={p.left} y={p.top} width={W} height={H} />
        </clipPath>
      </defs>
      <text x={p.left} y={p.top - 19} fontSize={21} fill="#111">
        {p.title}
      </text>

      <g clipPath={`url(#clip-${p.id})`} fill="none" strokeWidth={2} strokeLinejoin="round">
        <path d={line(p.before) ?? ''} stroke={colors.before} />
        <path d={line(p.after) ?? ''} stroke={colors.after} />
        <path d={line(p.cfd) ?? ''} stroke={colors.cfd} strokeDasharray="4.5,2.5" />
      </g>

      <rect x={p.left} y={p.top} width={W} height={H} fill="none" stroke="#222" strokeWidth={1.3} />

      {/* ticks point inward */}
      {[...timeTicks, ...timeMinor].map((t) => (
        <line key={`xt${t}`} x1={x(t)} x2={x(t)} y1={bottom} y2={bottom - 5} stroke="#222" strokeWidth={1.2} />
      ))}
      {[...p.ticks, ...minor].map((t) => (
        <line key={`yt${t}`} x1={p.left} x2={p.left + 5} y1={y(t)} y2={y(t)} stroke="#222" strokeWidth={1.2} />
      ))}
      {timeTicks.map((t) => (
        <text key={`xl${t}`} x={x(t)} y={bottom + 28} fontSize={18} textAnchor="middle" fill="#222">
          {t}
        </text>
      ))}
      {p.ticks.map((t) => (
        <text key={`yl${t}`} x={p.left - 23} y={y(t) + 6} fontSize={18} textAnchor="end" fill="#222">
          {fmt(t)}
        </text>
      ))}

      <text x={p.left + W / 2} y={bottom + 55} fontSize={19} textAnchor="middle" fill="#222">
        Time, s
      </text>

      <text
        transform={`translate(${labelX},${labelY}) rotate(-90)`}
        textAnchor="middle"
        dy="0.35em"
        fontSize={20}
        fill="#222"
      >
        {p.species},{' '}
        <tspan fontFamily='"Noto Sans CJK SC", sans-serif' fontWeight={300} fontSize={21} fill="#555">
          ×
        </tspan>
        10
        <tspan dy={-7} fontSize={14} fontWeight="bold">
          {p.exp}
        </tspan>
        <tspan dy={7}> kg/s</tspan>
      </text>

      {seriesNames.map((name, i) => (
        <g key={name}>
          <line
            x1={p.legend.x0}
            x2={p.legend.x1}
            y1={p.legend.ys[i]}
            y2={p.legend.ys[i]}
            stroke={styles[i].color}
            strokeWidth={2}
            strokeDasharray={styles[i].dash}
          />
          <text
            x={p.legend.tx}
            y={p.legend.ys[i]}
            dy="0.36em"
            fontSize={legendSize}
            letterSpacing={legendSpacing}
            fill="#111"
          >
            {name}
          </text>
        </g>
      ))}
    </g>
  )
}

export default function App() {
  return (
    <svg
      width={1318}
      height={740}
      viewBox="0 0 1318 740"
      style={{ position: 'absolute', left: 0, top: 0, background: '#fff' }}
      fontFamily={font}
    >
      <rect width={1318} height={740} fill="#fff" />
      {panels.map((p) => (
        <Panel key={p.id} p={p} />
      ))}
    </svg>
  )
}
